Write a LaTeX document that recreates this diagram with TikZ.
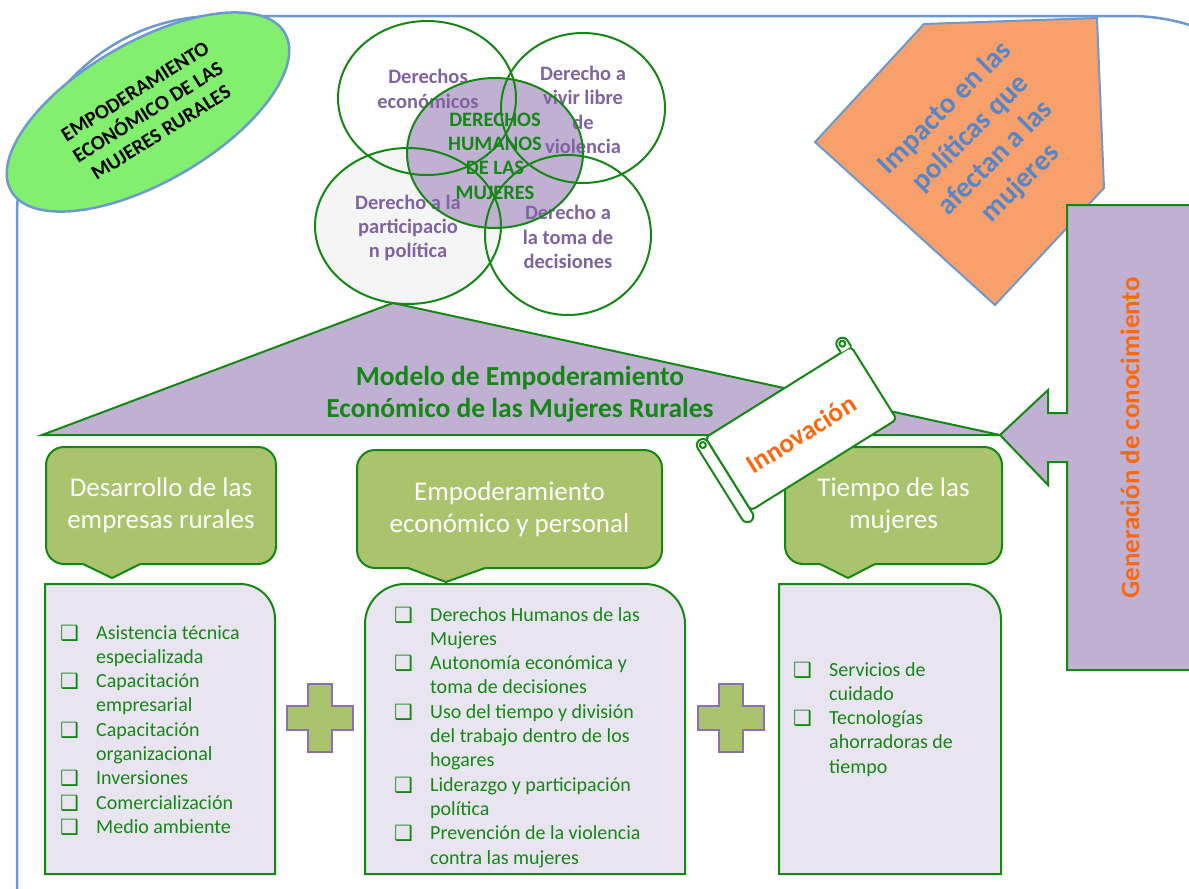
\documentclass[tikz,border=0pt]{standalone}
\usepackage{fontspec}
\setmainfont{Carlito}
\newfontfamily\symfont{DejaVu Sans}
\usepackage{tikz}
\usetikzlibrary{shapes, arrows, positioning, calc}

\definecolor{framecol}{RGB}{108,154,206}
\definecolor{titlefill}{RGB}{130,240,110}
\definecolor{venngreen}{RGB}{20,135,20}
\definecolor{lila}{RGB}{192,177,211}
\definecolor{lilatext}{RGB}{128,100,162}
\definecolor{leafgreen}{RGB}{169,196,108}
\definecolor{listfill}{RGB}{233,229,240}
\definecolor{orangetext}{RGB}{250,105,15}
\definecolor{impactfill}{RGB}{247,160,108}
\definecolor{impacttext}{RGB}{85,135,200}
\definecolor{pluspurple}{RGB}{140,110,180}

\newcommand{\chkmark}{\raisebox{-1pt}[0pt][0pt]{\symfont\fontsize{21}{21}\selectfont ❑}}
\newcommand{\chkitem}{\par\hangindent=36pt\hangafter=1\noindent\makebox[36pt][l]{\chkmark}}
\newcommand{\checklist}[1]{\parbox[t]{280pt}{\raggedright #1}}

\begin{document}
\begin{tikzpicture}[
			x=1pt, y=-1pt,
			outerframe/.style={draw=framecol, line width=2.5pt},
			venn/.style={draw=venngreen, line width=2pt},
			venntext/.style={text=lilatext, font=\bfseries\fontsize{20.5}{24.3}\selectfont, align=center},
			callbox/.style={draw=venngreen, fill=leafgreen, line width=2pt, rounded corners=18pt,
				text=white, font=\fontsize{27}{32}\selectfont, align=center},
			callline/.style={draw=venngreen, line width=2pt, line join=round},
			listbox/.style={draw=venngreen, fill=listfill, line width=2pt},
			listtext/.style={text=venngreen, font=\fontsize{20}{24.3}\selectfont, inner sep=0pt, anchor=base west},
			scrollline/.style={draw=venngreen, line width=2pt, line join=round},
			plussign/.pic={\draw[draw=pluspurple, fill=leafgreen, line width=2pt]
				(-12,-34) -- (12,-34) -- (12,-12) -- (33,-12) -- (33,12) -- (12,12) -- (12,34)
				-- (-12,34) -- (-12,12) -- (-33,12) -- (-33,-12) -- (-12,-12) -- cycle;}
		]
		\useasboundingbox (0,0) rectangle (1189,889);
		\fill[white] (0,0) rectangle (1189,889);

		% outer frame and title
		\draw[outerframe, rounded corners=200pt] (17,16) rectangle (1330,1100);
		\draw[outerframe, fill=titlefill, rotate around={30:(148,112)}] (148,112) ellipse [x radius=158, y radius=70];
		\node[rotate=32, font=\bfseries\fontsize{20.5}{24.3}\selectfont, align=center] (titulo) at (148,112)
			{EMPODERAMIENTO\\ECONÓMICO DE LAS\\MUJERES RURALES};

		% model triangle
		\draw[venn, fill=lila] (42,435) -- (393,303) -- (1000,435) -- cycle;
		\node[text=venngreen, font=\bfseries\fontsize{27.5}{32}\selectfont, align=center] (modelo) at (520,394)
			{Modelo de Empoderamiento\\Económico de las Mujeres Rurales};

		% rights
		\fill[white!96!black] (408,226) ellipse [x radius=93, y radius=78];
		\fill[lila] (495,153) ellipse [x radius=88, y radius=75];
		\node[venntext] (deco) at (428,89) {Derechos\\económicos};
		\node[venntext] (viol) at (583,110) {Derecho a\\vivir libre\\de\\violencia};
		\node[venntext] (part) at (408,228) {Derecho a la\\participacio\\n política};
		\node[venntext] (deci) at (568,237) {Derecho a\\la toma de\\decisiones};
		\node[venntext, text=venngreen] (dhm) at (495,156) {DERECHOS\\HUMANOS\\DE LAS\\MUJERES};
		\draw[venn] (427,98) ellipse [x radius=89, y radius=77];
		\draw[venn] (583,108) ellipse [x radius=82, y radius=75];
		\draw[venn] (495,153) ellipse [x radius=88, y radius=75];
		\draw[venn] (408,226) ellipse [x radius=93, y radius=78];
		\draw[venn] (568,235) ellipse [x radius=83, y radius=80];

		% impact
		\draw[draw=framecol, line width=2pt, fill=impactfill] (924,24) -- (1097,18) -- (1104,188) -- (995,305) -- (815,142) -- cycle;
		\node[rotate=45, text=impacttext, font=\bfseries\fontsize{29}{35.5}\selectfont, align=center] (impacto) at (983,146)
			{Impacto en las\\políticas que\\afectan a las\\mujeres};

		% knowledge arrow
		\draw[venn, fill=lila] (1000,435) -- (1048,390) -- (1048,413) -- (1067,413) -- (1067,205) -- (1200,205)
			-- (1200,670) -- (1067,670) -- (1067,462) -- (1048,462) -- (1048,485) -- cycle;
		\node[rotate=90, text=orangetext, font=\bfseries\fontsize{27}{30}\selectfont] (genera) at (1130,438)
			{Generación de conocimiento};

		% callouts
		\node[callbox, minimum width=230pt, minimum height=117pt] (calldes) at (161,505.5)
			{Desarrollo de las\\empresas rurales};
		\node[callbox, minimum width=305pt, minimum height=118pt] (callemp) at (509.5,509)
			{Empoderamiento\\económico y personal};
		\node[callbox, minimum width=217pt, minimum height=117pt] (calltie) at (893.5,505.5)
			{Tiempo de las\\mujeres};
		\coordinate (tipdes) at (112,578);
		\coordinate (tipemp) at (446,582);
		\coordinate (tiptie) at (848,578);
		\fill[leafgreen] (83,559) -- (140,559) -- (140,564) -- (tipdes) -- (83,564) -- cycle;
		\draw[callline] (83,564) -- (tipdes) -- (140,564);
		\fill[leafgreen] (408,563) -- (485,563) -- (485,568) -- (tipemp) -- (408,568) -- cycle;
		\draw[callline] (408,568) -- (tipemp) -- (485,568);
		\fill[leafgreen] (820,559) -- (875,559) -- (875,564) -- (tiptie) -- (820,564) -- cycle;
		\draw[callline] (820,564) -- (tiptie) -- (875,564);

		% lists
		\draw[listbox] (45,874) -- (45,584) -- (240,584) arc[start angle=270, end angle=360, radius=35] -- (275,874) -- cycle;
		\draw[listbox] (365,874) -- (365,624) arc[start angle=180, end angle=270, radius=40] -- (645,584)
			arc[start angle=270, end angle=360, radius=40] -- (685,874) -- cycle;
		\draw[listbox] (779,874) -- (779,584) -- (966,584) arc[start angle=270, end angle=360, radius=35] -- (1001,874) -- cycle;
		\node[listtext] (listdes) at (60,639) {\checklist{%
			\chkitem Asistencia técnica\newline especializada
			\chkitem Capacitación\newline empresarial
			\chkitem Capacitación\newline organizacional
			\chkitem Inversiones
			\chkitem Comercialización
			\chkitem Medio ambiente}};
		\node[listtext] (listemp) at (394,621) {\checklist{%
			\chkitem Derechos Humanos de las\newline Mujeres
			\chkitem Autonomía económica y\newline toma de decisiones
			\chkitem Uso del tiempo y división\newline del trabajo dentro de los\newline hogares
			\chkitem Liderazgo y participación\newline política
			\chkitem Prevención de la violencia\newline contra las mujeres}};
		\node[listtext] (listtie) at (793,676) {\checklist{%
			\chkitem Servicios de\newline cuidado
			\chkitem Tecnologías\newline ahorradoras de\newline tiempo}};

		\pic at (320,718) {plussign};
		\pic at (731,718) {plussign};

		% innovation scroll
		\begin{scope}[shift={(801,428.5)}, rotate=32, yscale=-1]
			\draw[scrollline, fill=white, rounded corners=4pt] (-86,43) -- (86,43) -- (86,-43) -- (-86,-43) -- cycle;
			\draw[scrollline, fill=white] (74,43) -- (74,50) arc[start angle=180, end angle=0, radius=6] -- (86,43);
			\draw[scrollline] (80,50) circle[radius=3];
			\draw[scrollline, fill=white] (-86,38) -- (-86,-46) arc[start angle=0, end angle=-180, radius=6]
				-- (-98,38) arc[start angle=180, end angle=0, radius=6];
			\draw[scrollline] (-92,38) circle[radius=3];
		\end{scope}
		\node[rotate=32, text=orangetext, font=\bfseries\fontsize{27}{30}\selectfont] (innova) at (801,434) {Innovación};
	\end{tikzpicture}
\end{document}
